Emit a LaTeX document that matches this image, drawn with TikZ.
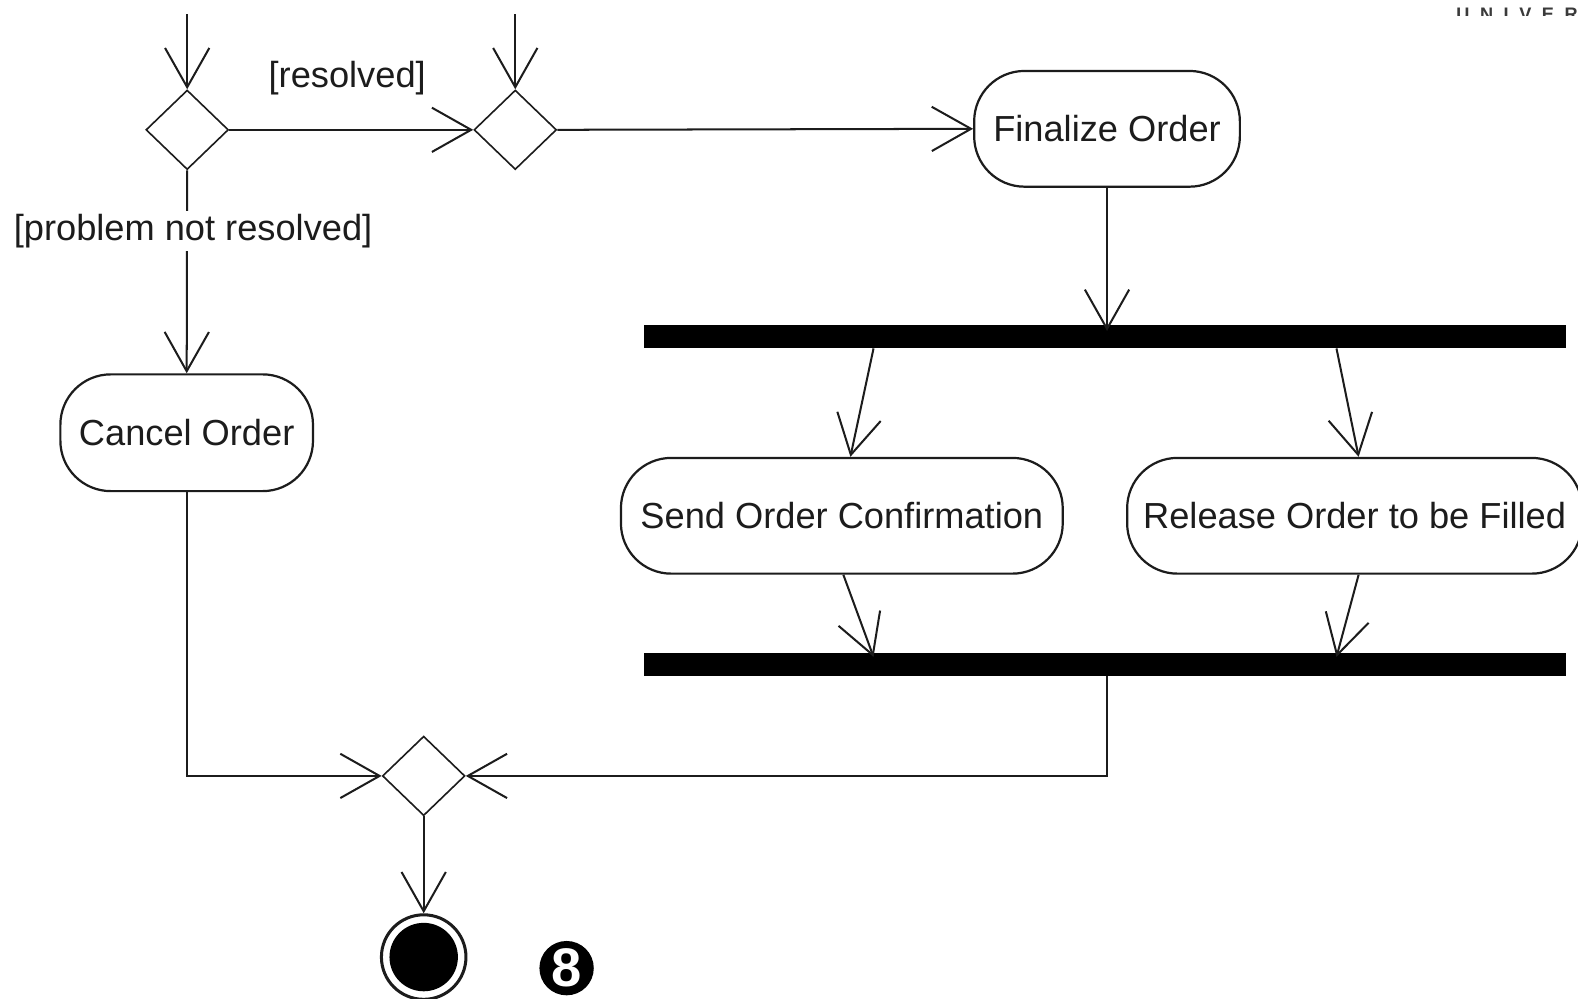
\documentclass[tikz,border=0pt]{standalone}
\usepackage{fontspec}
\setmainfont{Liberation Sans}
\usetikzlibrary{arrows.meta,shapes.geometric}
\definecolor{ink}{HTML}{1C1C1C}
\definecolor{faint}{HTML}{3A3A3A}
\begin{document}
\begin{tikzpicture}[x=1pt,y=-1pt,
  every node/.style={font=\fontsize{36}{43}\selectfont, text=ink},
  action/.style={draw=ink, line width=2.2pt, rectangle, rounded corners=50pt,
    minimum height=115pt, inner sep=0pt},
  decision/.style={draw=ink, line width=1.6pt, diamond, minimum width=82pt,
    minimum height=79pt, inner sep=0pt},
  syncbar/.style={fill=black, minimum width=916pt, minimum height=23pt, inner sep=0pt},
  flow/.style={draw=ink, line width=2pt, -{Straight Barb[length=39pt,width=44pt]}},
  guard/.style={fill=white, inner sep=3pt},
]
\useasboundingbox (0,0) rectangle (1568,992);
\fill[white] (0,0) rectangle (1568,992);
\clip (0,0) rectangle (1568,992);

% heading text, partly hidden at the top edge
\begin{scope}
  \clip (1400,0) rectangle (1568,15);
  \node[anchor=base west, inner sep=0pt, text=faint,
        font=\bfseries\fontsize{18}{18}\selectfont] (head) at (1447,20)
    {U\hspace{10.5pt}N\hspace{10.5pt}I\hspace{10.5pt}V\hspace{10.5pt}E\hspace{10.5pt}R};
\end{scope}

% nodes
\node[decision] (d1) at (186,129) {};
\node[decision] (d2) at (512,129) {};
\node[action, minimum width=264pt] (fin) at (1100,128) {Finalize Order};
\node[syncbar] (fork) at (1098,334.5) {};
\node[action, minimum width=439pt] (send) at (836.5,512.5) {Send Order Confirmation};
\node[action, minimum width=452pt] (rel) at (1346,512.5) {Release Order to be Filled};
\node[syncbar] (join) at (1098,660.5) {};
\node[action, minimum width=251pt, minimum height=116pt] (cancel) at (185.5,430) {Cancel Order};
\node[decision] (d3) at (421,771) {};
\node[circle, draw=ink, line width=3pt, minimum size=84pt, inner sep=0pt] (final) at (421,951) {};
\fill[black] (final.center) circle (34pt);
\node[circle, fill=black, minimum size=54pt, inner sep=0pt, text=white,
      font=\bfseries\fontsize{54}{54}\selectfont] (badge) at (563,962) {8};

\coordinate (s1) at (186,14);
\coordinate (s2) at (512,14);

% connectors (tips into the bars reach a little past their top edge)
\draw[flow] (s1) -- (d1.north);
\draw[flow] (s2) -- (d2.north);
\draw[flow] (d1.east) -- (d2.west);
\node (lres) at (345,78) {[resolved]};
\draw[flow] (d2.east) -- (fin.west);
\draw[flow] (d1.south) -- node[guard, pos=0.3, xshift=6pt] (lnot) {[problem not resolved]} (cancel.north);
\draw[flow] (fin.south) -- ([yshift=-6pt]fin.south |- fork.north);
\draw[flow] ([xshift=-230pt]fork.south) -- ([xshift=8.5pt]send.north);
\draw[flow] ([xshift=230pt]fork.south) -- ([xshift=4pt]rel.north);
\draw[flow] ([xshift=1.5pt]send.south) -- ([xshift=-230pt, yshift=-4pt]join.north);
\draw[flow] ([xshift=4pt]rel.south) -- ([xshift=230pt, yshift=-4pt]join.north);
\draw[flow] (cancel.south) |- (d3.west);
\draw[flow] (join.south -| fin.south) |- (d3.east);
\draw[flow] (d3.south) -- (final.north);
\end{tikzpicture}
\end{document}
